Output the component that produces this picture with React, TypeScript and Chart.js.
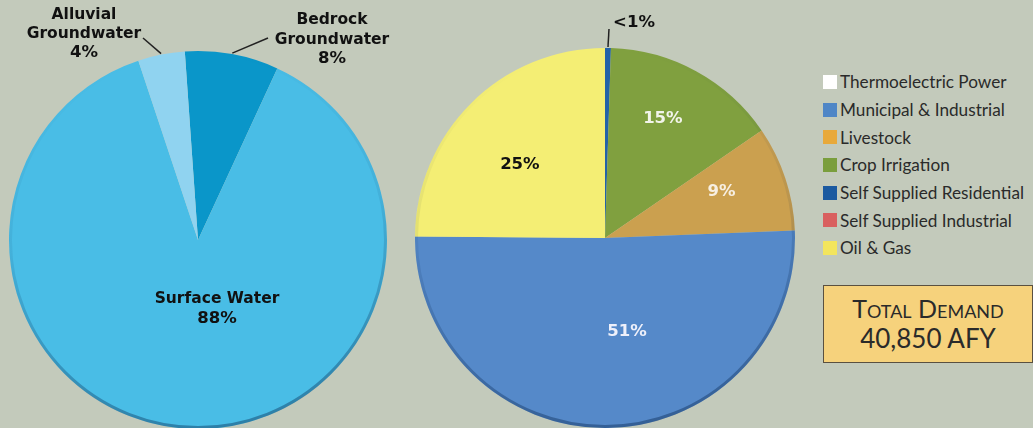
import React, { useEffect, useRef } from "react";
import { Chart, registerables } from "chart.js";

Chart.register(...registerables);

// ---------- DATA ----------
const supplySources = ["Bedrock Groundwater", "Surface Water", "Alluvial Groundwater"];
const supplyShares = [8, 88, 4];
const supplyColors = ["#0a96c9", "#49bde6", "#90d3f0"];

const useCategories = ["Self Supplied Residential", "Crop Irrigation", "Livestock", "Municipal & Industrial", "Oil & Gas"];
const useShares = [0.5, 15, 9, 51, 25];
const useColors = ["#2262a8", "#80a03f", "#cba04f", "#5589c9", "#f4ee74"];

const legendCategories = [
  "Thermoelectric Power",
  "Municipal & Industrial",
  "Livestock",
  "Crop Irrigation",
  "Self Supplied Residential",
  "Self Supplied Industrial",
  "Oil & Gas",
];
const legendColors = ["#ffffff", "#4f86c6", "#e8a93a", "#7a9e3c", "#1b5aa0", "#d9605f", "#f3e55d"];

const totalDemandLabel = "Total Demand";
const totalDemandValue = "40,850 AFY";

// ---------- LABEL LAYOUT (styles / positions) ----------
const supplyLabels = [
  { index: 1, kind: "in", lines: ["Surface Water", "88%"], angle: 164.6, rFrac: 0.379, color: "#111", lineH: 20 },
  { index: 2, kind: "out", lines: ["Alluvial", "Groundwater", "4%"], lineEnd: [-55, -202], text: [-114, -225], color: "#111", lineH: 19 },
  { index: 0, kind: "out", lines: ["Bedrock", "Groundwater", "8%"], lineEnd: [70, -202], text: [134, -220], color: "#111", lineH: 19.5 },
];
const useLabels = [
  { index: 1, kind: "in", lines: ["15%"], angle: 25.8, rFrac: 0.70, color: "#f2f4ea", lineH: 18 },
  { index: 2, kind: "in", lines: ["9%"], angle: 68.4, rFrac: 0.66, color: "#f7efe2", lineH: 18 },
  { index: 4, kind: "in", lines: ["25%"], angle: 310.6, rFrac: 0.59, color: "#111", lineH: 18 },
  { index: 3, kind: "in", lines: ["51%"], angle: 166.8, rFrac: 0.508, color: "#eef0fa", lineH: 18 },
  { index: 0, kind: "out", lines: ["<1%"], lineEnd: [4, -209], text: [29, -215], color: "#111", lineH: 18 },
];

const BG = "#c3cabb";

const sliceLabelPlugin = {
  id: "sliceLabels",
  afterDatasetsDraw(chart: any, _args: any, opts: any) {
    const ctx = chart.ctx as CanvasRenderingContext2D;
    const meta = chart.getDatasetMeta(0);
    const a0 = meta.data[0] as any;
    const cx = a0.x, cy = a0.y, r = a0.outerRadius;
    ctx.save();
    // subtle rim shading (darker towards the bottom)
    const g = ctx.createLinearGradient(cx, cy - r, cx + r * 0.3, cy + r);
    g.addColorStop(0, "rgba(0,30,70,0)");
    g.addColorStop(0.45, "rgba(0,30,70,0.08)");
    g.addColorStop(1, "rgba(0,30,70,0.4)");
    ctx.beginPath();
    ctx.arc(cx, cy, r - 1.5, 0, Math.PI * 2);
    ctx.strokeStyle = g;
    ctx.lineWidth = 3;
    ctx.stroke();

    ctx.textAlign = "center";
    ctx.textBaseline = "middle";
    for (const l of opts.labels || []) {
      const arc = meta.data[l.index] as any;
      ctx.fillStyle = l.color;
      const fontFor = (t: string) =>
        /%$/.test(t) ? "bold 16.5px 'DejaVu Sans', Verdana, sans-serif" : "bold 15.5px 'DejaVu Sans', Verdana, sans-serif";
      if (l.kind === "in") {
        const ang = ((l.angle - 90) * Math.PI) / 180;
        const x = cx + Math.cos(ang) * r * l.rFrac;
        const y = cy + Math.sin(ang) * r * l.rFrac;
        const n = l.lines.length;
        l.lines.forEach((t: string, i: number) => {
          ctx.font = fontFor(t);
          ctx.fillText(t, x, y + (i - (n - 1) / 2) * l.lineH);
        });
      } else {
        const mid = (arc.startAngle + arc.endAngle) / 2;
        const sx = cx + Math.cos(mid) * (r + 1);
        const sy = cy + Math.sin(mid) * (r + 1);
        ctx.beginPath();
        ctx.moveTo(sx, sy);
        ctx.lineTo(cx + l.lineEnd[0], cy + l.lineEnd[1]);
        ctx.strokeStyle = "#222";
        ctx.lineWidth = 1.5;
        ctx.stroke();
        l.lines.forEach((t: string, i: number) => {
          ctx.font = fontFor(t);
          ctx.fillText(t, cx + l.text[0], cy + l.text[1] + i * l.lineH);
        });
      }
    }
    ctx.restore();
  },
};

function PieCanvas(props: {
  labels: string[];
  data: number[];
  colors: string[];
  rotation: number;
  padding: any;
  sliceLabels: any[];
  left: number;
}) {
  const ref = useRef<HTMLCanvasElement | null>(null);
  useEffect(() => {
    if (!ref.current) return;
    const chart = new Chart(ref.current, {
      type: "pie",
      data: {
        labels: props.labels,
        datasets: [
          {
            data: props.data,
            backgroundColor: props.colors,
            borderWidth: 0,
          },
        ],
      },
      options: {
        responsive: false,
        animation: false,
        rotation: props.rotation,
        layout: { padding: props.padding },
        plugins: {
          legend: { display: false },
          tooltip: { enabled: false },
          title: { display: false },
          sliceLabels: { labels: props.sliceLabels },
        } as any,
      },
      plugins: [sliceLabelPlugin as any],
    });
    return () => chart.destroy();
  }, []);
  return (
    <canvas
      ref={ref}
      width={410}
      height={430}
      style={{ position: "absolute", left: props.left, top: 0, width: 410, height: 430 }}
    />
  );
}

export default function App() {
  const legendFont = "Lato, 'Open Sans', sans-serif";
  return (
    <div
      style={{
        position: "fixed",
        left: 0,
        top: 0,
        width: 1033,
        height: 428,
        background: BG,
        overflow: "hidden",
      }}
    >
      <PieCanvas
        labels={supplySources}
        data={supplyShares}
        colors={supplyColors}
        rotation={-4}
        padding={{ left: 9, right: 23, top: 51, bottom: 1 }}
        sliceLabels={supplyLabels}
        left={0}
      />
      <PieCanvas
        labels={useCategories}
        data={useShares}
        colors={useColors}
        rotation={0}
        padding={{ left: 5, right: 25, top: 48, bottom: 2 }}
        sliceLabels={useLabels}
        left={410}
      />
      <div style={{ position: "absolute", left: 823, top: 68 }}>
        {legendCategories.map((c, i) => (
          <div
            key={c}
            style={{
              display: "flex",
              alignItems: "center",
              height: 27.7,
              fontFamily: legendFont,
              fontSize: 17.2,
              color: "#2a2a2a",
              whiteSpace: "nowrap",
            }}
          >
            <span
              style={{
                display: "inline-block",
                width: 14,
                height: 14,
                background: legendColors[i],
                marginRight: 3,
              }}
            />
            <span>{c}</span>
          </div>
        ))}
      </div>
      <div
        style={{
          position: "absolute",
          left: 823,
          top: 285,
          width: 208,
          height: 76,
          background: "#f6d27c",
          border: "1px solid #5a5040",
          fontFamily: legendFont,
          color: "#2a2a2a",
          textAlign: "center",
        }}
      >
        <div style={{ fontVariant: "small-caps", fontSize: 25, lineHeight: "24px", marginTop: 10 }}>
          {totalDemandLabel}
        </div>
        <div style={{ fontSize: 26, lineHeight: "30px", marginTop: 3 }}>{totalDemandValue}</div>
      </div>
    </div>
  );
}
